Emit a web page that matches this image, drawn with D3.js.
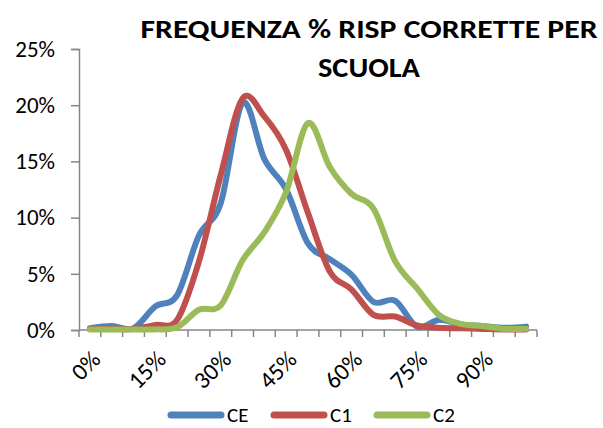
<!DOCTYPE html>
<html>
<head>
<meta charset="utf-8">
<script src="https://cdn.jsdelivr.net/npm/d3@7"></script>
<style>
  html, body { margin: 0; padding: 0; background: #fff; }
  svg { display: block; }
  text { font-family: Carlito, Calibri, Lato, "Open Sans", sans-serif; fill: #000; }
</style>
</head>
<body>
<svg id="chart" width="603" height="428"></svg>
<script>
const categories = ["0%","5%","10%","15%","20%","25%","30%","35%","40%","45%","50%","55%","60%","65%","70%","75%","80%","85%","90%","95%","100%"];
const shownLabels = ["0%","15%","30%","45%","60%","75%","90%"];
const yTicks = [0, 0.05, 0.10, 0.15, 0.20, 0.25];
const seriesNames = ["CE", "C1", "C2"];
const ceValues = [0.15,0.35,0.15,2.1,3.1,8.4,11.3,20.2,15.2,12.5,7.7,6.3,4.9,2.5,2.6,0.3,0.9,0.5,0.35,0.2,0.3];
const c1Values = [0.1,0.1,0.1,0.45,0.9,6.1,13.8,20.6,19.0,16.0,10.4,5.2,3.6,1.35,1.2,0.4,0.2,0.15,0.1,0.05,0.05];
const c2Values = [0.05,0.05,0.05,0.05,0.25,1.8,2.2,6.2,8.7,12.3,18.4,14.5,12.1,10.8,6.1,3.7,1.35,0.55,0.35,0.1,0.1];
const colors = ["#4F81BD", "#C0504D", "#9BBB59"];
const titleLines = ["FREQUENZA % RISP CORRETTE PER", "SCUOLA"];

const series = [ceValues, c1Values, c2Values].map((vals, i) => ({
  name: seriesNames[i], color: colors[i],
  values: vals.map((v, j) => ({ cat: categories[j], v: v / 100 }))
}));

const svg = d3.select("#chart");
const plotLeft = 79, plotRight = 537, plotTop = 49, plotBottom = 330;

const x = d3.scaleBand().domain(categories).range([plotLeft, plotRight]).paddingInner(0).paddingOuter(0);
const y = d3.scaleLinear().domain([0, 0.25]).range([plotBottom, plotTop]);
const axisColor = "#868686";

// Y axis
const yAxis = d3.axisLeft(y).tickValues(yTicks).tickSize(8).tickFormat(d3.format(".0%"));
const yg = svg.append("g").attr("transform", `translate(${plotLeft},0)`).call(yAxis);
yg.select(".domain").attr("stroke", axisColor).attr("stroke-width", 1.5);
yg.selectAll(".tick line").attr("stroke", axisColor).attr("stroke-width", 1.5);
yg.selectAll(".tick text").attr("x", -24).attr("font-size", 23).attr("fill", "#000")
  .style("font-family", "Carlito, Calibri, Lato, sans-serif");

// X axis line + ticks at category boundaries
const xg = svg.append("g");
xg.append("line").attr("x1", plotLeft).attr("x2", plotRight).attr("y1", plotBottom).attr("y2", plotBottom)
  .attr("stroke", axisColor).attr("stroke-width", 1.5);
const boundaries = categories.map(c => x(c)).concat([x(categories[categories.length - 1]) + x.bandwidth()]);
xg.selectAll("line.tk").data(boundaries).join("line").attr("class", "tk")
  .attr("x1", d => d).attr("x2", d => d).attr("y1", plotBottom).attr("y2", plotBottom + 7)
  .attr("stroke", axisColor).attr("stroke-width", 1.5);
xg.selectAll("text.xl").data(shownLabels).join("text").attr("class", "xl")
  .attr("transform", d => `translate(${x(d) + x.bandwidth() / 2 + 6},${plotBottom + 25}) rotate(-45)`)
  .attr("text-anchor", "end").attr("dy", "0.35em").attr("font-size", 24).text(d => d);

// Lines
const line = d3.line()
  .x(d => x(d.cat) + x.bandwidth() / 2)
  .y(d => y(d.v))
  .curve(d3.curveCatmullRom.alpha(0));
svg.append("g").selectAll("path").data(series).join("path")
  .attr("d", d => line(d.values))
  .attr("fill", "none").attr("stroke", d => d.color).attr("stroke-width", 6)
  .attr("stroke-linecap", "round").attr("stroke-linejoin", "round");

// Title
const tg = svg.append("g");
tg.append("text").attr("x", 369).attr("y", 38).attr("text-anchor", "middle")
  .attr("font-size", 27).attr("font-weight", "bold")
  .attr("textLength", 457).attr("lengthAdjust", "spacingAndGlyphs").text(titleLines[0]);
tg.append("text").attr("x", 369).attr("y", 77).attr("text-anchor", "middle")
  .attr("font-size", 28).attr("font-weight", "bold")
  .attr("textLength", 102).attr("lengthAdjust", "spacingAndGlyphs").text(titleLines[1]);

// Legend
const legendItems = [
  { name: seriesNames[0], color: colors[0], x1: 171, x2: 221, tx: 227 },
  { name: seriesNames[1], color: colors[1], x1: 274, x2: 324, tx: 330 },
  { name: seriesNames[2], color: colors[2], x1: 377, x2: 427, tx: 433 }
];
const lg = svg.append("g");
legendItems.forEach(it => {
  lg.append("line").attr("x1", it.x1).attr("x2", it.x2).attr("y1", 415).attr("y2", 415)
    .attr("stroke", it.color).attr("stroke-width", 7).attr("stroke-linecap", "round");
  lg.append("text").attr("x", it.tx).attr("y", 422)
    .attr("font-size", 21).text(it.name);
});
</script>
</body>
</html>
